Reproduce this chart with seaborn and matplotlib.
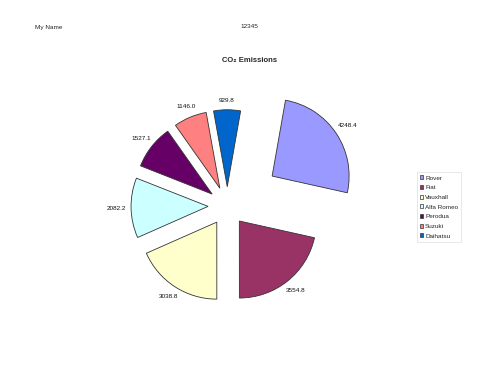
import numpy as np
import matplotlib
matplotlib.use("Agg")
import matplotlib.pyplot as plt
import seaborn as sns

# data #
makes = ["Rover", "Fiat", "Vauxhall", "Alfa Romeo", "Perodua", "Suzuki", "Daihatsu"]
emissions = [4248.4, 3554.8, 3038.8, 2082.2, 1527.1, 1146.0, 929.8]
hex_colors = ["#9999FF", "#993366", "#FFFFCC", "#CCFFFF", "#660066", "#FF8080", "#0066CC"]
explode = [0.7, 0.25, 0.25, 0.25, 0.25, 0.25, 0.25]

sns.set_theme(style="white")
plt.rcParams["font.family"] = ["Liberation Sans", "DejaVu Sans"]
palette = sns.color_palette(hex_colors)

fig = plt.figure(figsize=(5, 3.86), dpi=100)
fig.patch.set_facecolor("white")

# square axes centred on the pie, radius = 77px #
r_px = 77.0
ax = fig.add_axes([77.3 / 500, 30 / 386, 300 / 500, 300 / 386])
wedges, texts = ax.pie(emissions, labels=[f"{v:.1f}" for v in emissions],
                       colors=palette, explode=explode, startangle=80,
                       counterclock=False,
                       wedgeprops=dict(edgecolor="#333333", linewidth=0.6),
                       textprops=dict(fontsize=4.6, color="#111111"))
lim = 150 / r_px
ax.set_xlim(-lim, lim)
ax.set_ylim(-lim, lim)
ax.set_aspect("equal")
ax.axis("off")

# put the value labels just outside each slice, like Excel #
for w, t in zip(wedges, texts):
    th = np.radians((w.theta1 + w.theta2) / 2)
    cx, cy = w.center
    d = 1.12 + 0.07 * abs(np.cos(th))
    t.set_position((cx + d * w.r * np.cos(th), cy + d * w.r * np.sin(th)))
    t.set_ha("center")
    t.set_va("center")

# header texts #
fig.text(34.7 / 500, 1 - 27 / 386, "My Name", fontsize=4.6, ha="left", va="center")
fig.text(249.7 / 500, 1 - 27 / 386, "12345", fontsize=4.6, ha="center", va="center")
fig.text(249.7 / 500, 1 - 60.3 / 386, "CO₂ Emissions", fontsize=5.5,
         fontweight="bold", ha="center", va="center")

leg = fig.legend(wedges, makes, loc="upper left",
                 bbox_to_anchor=(416.7 / 500, 1 - 172.3 / 386),
                 fontsize=4.6, frameon=True, fancybox=False,
                 handlelength=0.55, handleheight=0.55, handletextpad=0.25,
                 borderpad=0.5, labelspacing=0.7, borderaxespad=0)
leg.get_frame().set_edgecolor("#dddddd")
leg.get_frame().set_linewidth(0.6)
for h in leg.legend_handles:
    h.set_edgecolor("#333333")
    h.set_linewidth(0.5)

plt.savefig("out.png", dpi=100)
